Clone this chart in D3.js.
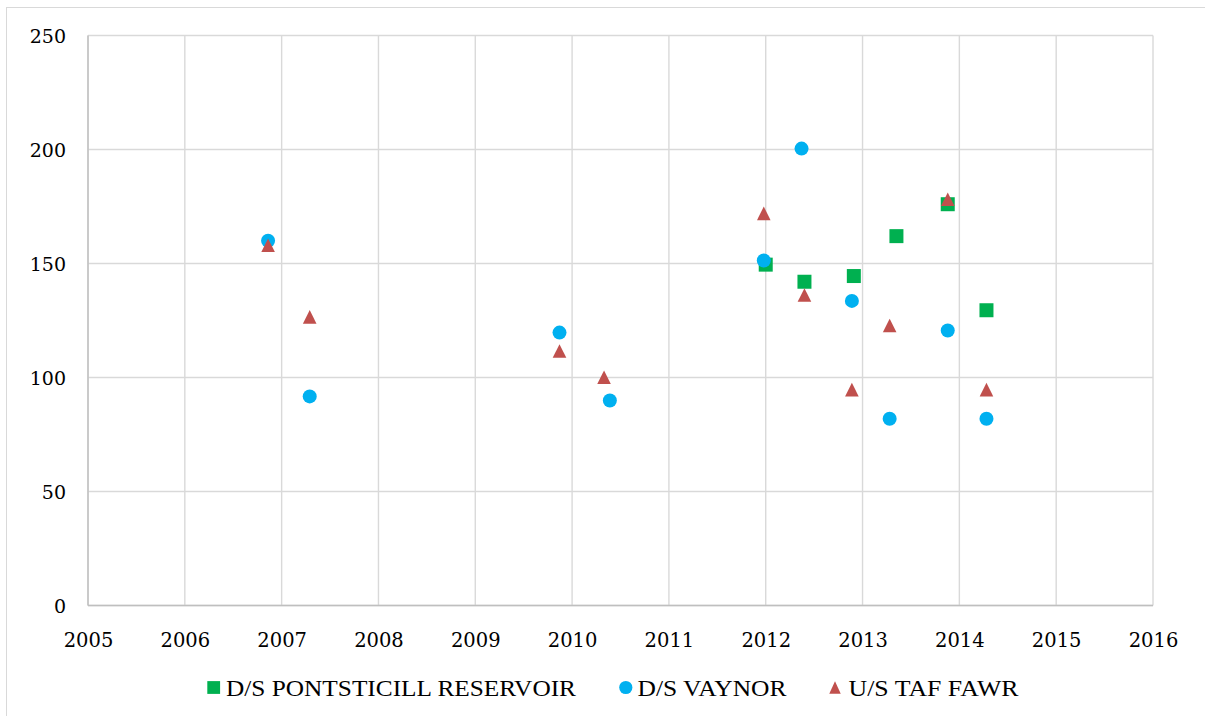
<!DOCTYPE html>
<html>
<head>
<meta charset="utf-8">
<script src="https://cdn.jsdelivr.net/npm/d3@7/dist/d3.min.js"></script>
<style>
  html, body { margin: 0; padding: 0; background: #fff; }
  svg { display: block; }
  .axis-label { font-family: "DejaVu Serif", serif; fill: #000; }
  .legend-label { font-family: "Liberation Serif", serif; fill: #000; font-size: 22.5px; }
</style>
</head>
<body>
<svg id="chart" width="1205" height="716"></svg>
<script>
// Sample dates (decimal years) and readings for each monitoring site
const pontsticillYears  = [2012.00, 2012.40, 2012.91, 2013.35, 2013.88, 2014.28];
const pontsticillValues = [149.5, 142, 144.5, 162, 176, 129.5];

const vaynorYears  = [2006.86, 2007.29, 2009.87, 2010.39, 2011.98, 2012.37, 2012.89, 2013.28, 2013.88, 2014.28];
const vaynorValues = [160, 91.7, 119.7, 89.9, 151.3, 200.4, 133.6, 81.9, 120.6, 81.9];

const tafFawrYears  = [2006.86, 2007.29, 2009.87, 2010.33, 2011.98, 2012.40, 2012.89, 2013.28, 2013.88, 2014.28];
const tafFawrValues = [158, 126.6, 111.6, 100.1, 172, 136.2, 94.7, 122.8, 178.2, 94.7];

const seriesNames = ["D/S PONTSTICILL RESERVOIR", "D/S VAYNOR", "U/S TAF FAWR"];
const xTicks = [2005, 2006, 2007, 2008, 2009, 2010, 2011, 2012, 2013, 2014, 2015, 2016];
const yTicks = [0, 50, 100, 150, 200, 250];

const svg = d3.select("#chart");
const plot = { left: 88, right: 1153, top: 35.5, bottom: 605.5 };

const x = d3.scaleLinear().domain([2005, 2016]).range([plot.left, plot.right]);
const y = d3.scaleLinear().domain([0, 250]).range([plot.bottom, plot.top]);

// outer chart frame
svg.append("rect")
  .attr("x", 6.5).attr("y", 7.5)
  .attr("width", 1210).attr("height", 720)
  .attr("fill", "none").attr("stroke", "#d9d9d9").attr("stroke-width", 1);

// gridlines
const grid = svg.append("g");
grid.selectAll("line.h").data(yTicks).join("line")
  .attr("x1", plot.left).attr("x2", plot.right)
  .attr("y1", d => y(d)).attr("y2", d => y(d))
  .attr("stroke", "#d9d9d9").attr("stroke-width", 1.4);
grid.selectAll("line.v").data(xTicks).join("line")
  .attr("y1", plot.top).attr("y2", plot.bottom)
  .attr("x1", d => x(d)).attr("x2", d => x(d))
  .attr("stroke", "#d9d9d9").attr("stroke-width", 1.4);

// axis lines
svg.append("line")
  .attr("x1", plot.left).attr("x2", plot.right)
  .attr("y1", plot.bottom).attr("y2", plot.bottom)
  .attr("stroke", "#bfbfbf").attr("stroke-width", 1.4);
svg.append("line")
  .attr("x1", plot.left).attr("x2", plot.left)
  .attr("y1", plot.top).attr("y2", plot.bottom)
  .attr("stroke", "#bfbfbf").attr("stroke-width", 1.4);

// axes (labels only)
const yAxis = svg.append("g")
  .attr("transform", `translate(${plot.left},0)`)
  .call(d3.axisLeft(y).tickValues(yTicks).tickSize(0).tickPadding(22).tickFormat(d3.format("d")));
yAxis.select(".domain").remove();
yAxis.attr("font-family", null).attr("font-size", null);
yAxis.selectAll("text")
  .attr("class", "axis-label")
  .style("font-size", "19px")
  .attr("dy", "0.36em");

const xAxis = svg.append("g")
  .attr("transform", `translate(0,${plot.bottom})`)
  .call(d3.axisBottom(x).tickValues(xTicks).tickSize(0).tickPadding(28).tickFormat(d3.format("d")));
xAxis.select(".domain").remove();
xAxis.attr("font-family", null).attr("font-size", null);
xAxis.selectAll("text")
  .attr("class", "axis-label")
  .style("font-size", "19.5px");

// triangle marker with separate width/height, centred on its bounding box
function triangleSymbol(w, h) {
  return {
    draw(ctx) {
      ctx.moveTo(0, -h / 2);
      ctx.lineTo(w / 2, h / 2);
      ctx.lineTo(-w / 2, h / 2);
      ctx.closePath();
    }
  };
}

const series = [
  { years: pontsticillYears, values: pontsticillValues, color: "#00b050",
    symbol: d3.symbol(d3.symbolSquare, 14 * 14) },
  { years: vaynorYears, values: vaynorValues, color: "#00b0f0",
    symbol: d3.symbol(d3.symbolCircle, Math.PI * 7 * 7) },
  { years: tafFawrYears, values: tafFawrValues, color: "#c0504d",
    symbol: d3.symbol(triangleSymbol(13.6, 13.6)) }
];

series.forEach(s => {
  const pts = s.years.map((yr, i) => ({ yr, v: s.values[i] }));
  svg.append("g").selectAll("path").data(pts).join("path")
    .attr("d", s.symbol())
    .attr("transform", d => `translate(${x(d.yr)},${y(d.v)})`)
    .attr("fill", s.color);
});

// legend
const legendItems = [
  { name: seriesNames[0], color: "#00b050", mx: 213.7, tx: 226, tw: 350,
    sym: d3.symbol(d3.symbolSquare, 12.8 * 12.8) },
  { name: seriesNames[1], color: "#00b0f0", mx: 625.8, tx: 637.5, tw: 149,
    sym: d3.symbol(d3.symbolCircle, Math.PI * 6.6 * 6.6) },
  { name: seriesNames[2], color: "#c0504d", mx: 835, tx: 848.5, tw: 170,
    sym: d3.symbol(triangleSymbol(11.5, 12.3)) }
];
const legend = svg.append("g");
legendItems.forEach(it => {
  legend.append("path")
    .attr("d", it.sym())
    .attr("transform", `translate(${it.mx},687.5)`)
    .attr("fill", it.color);
  legend.append("text")
    .attr("class", "legend-label")
    .attr("x", it.tx).attr("y", 695.5)
    .attr("textLength", it.tw)
    .attr("lengthAdjust", "spacingAndGlyphs")
    .text(it.name);
});
</script>
</body>
</html>
